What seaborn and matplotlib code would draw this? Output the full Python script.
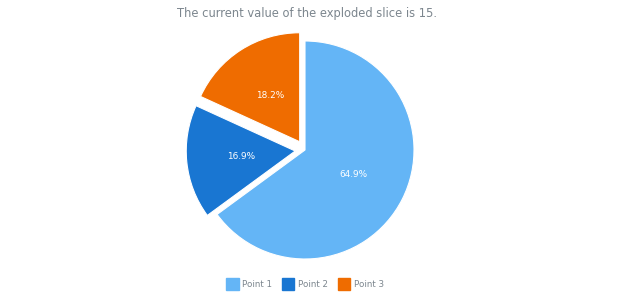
import matplotlib
matplotlib.use("Agg")
import matplotlib.pyplot as plt
import seaborn as sns
from matplotlib.patches import Patch

sns.set_theme(style="white")
plt.rcParams['font.family'] = ['DejaVu Sans']

categories = ["Point 1", "Point 2", "Point 3"]
values = [50, 13, 14]
colors = ["#64b5f6", "#1976d2", "#ef6c00"]
explode = [0, 0.09, 0.09]
title = "The current value of the exploded slice is 15."

W, H = 620, 300
fig = plt.figure(figsize=(W / 100, H / 100), dpi=100)
ax = fig.add_axes([0, 0, 1, 1])
cx, cy, r = 305, 150, 109
wedges, texts, autotexts = ax.pie(
    values, colors=colors, explode=explode, startangle=90, counterclock=False,
    autopct="%.1f%%", pctdistance=0.5,
    wedgeprops=dict(edgecolor="white", linewidth=0.8),
    textprops=dict(color="white", fontsize=6.4),
)
ax.set_xlim(-cx / r, (W - cx) / r)
ax.set_ylim(-(H - cy) / r, cy / r)
ax.set_aspect("auto")
ax.axis("off")

fig.text(0.495, 1 - 13 / H, title, ha="center", va="center", fontsize=8.3, color="#7c868e")

handles = [Patch(facecolor=c, edgecolor=c) for c in colors]
leg = fig.legend(handles, categories, loc="center", bbox_to_anchor=(0.492, 1 - 284 / H), ncol=3,
                 frameon=False, fontsize=6.3, handlelength=1.4, handleheight=1.6,
                 columnspacing=1.15, handletextpad=0.4, labelcolor="#7c868e")

fig.savefig("out.png", dpi=100, facecolor="white")
